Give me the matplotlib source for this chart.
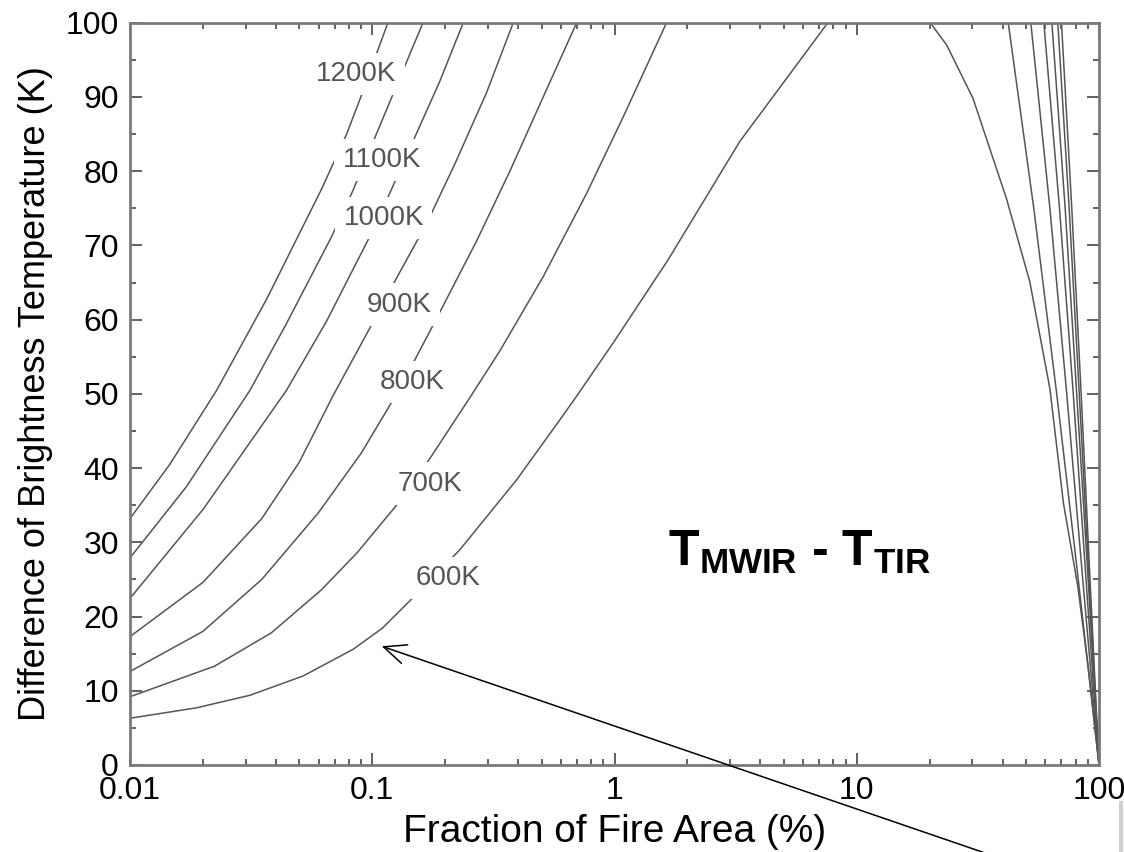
import numpy as np
import matplotlib.pyplot as plt
from matplotlib.ticker import FixedLocator, FixedFormatter, NullFormatter, MultipleLocator
from matplotlib.lines import Line2D

plt.rcParams['font.family'] = ['Liberation Sans', 'DejaVu Sans']
plt.rcParams['mathtext.fontset'] = 'custom'
plt.rcParams['mathtext.rm'] = 'Liberation Sans'
plt.rcParams['mathtext.bf'] = 'Liberation Sans:bold'

# fire area fraction (%) vs T_MWIR - T_TIR (K)
p_600 = [0.01, 0.0188, 0.0313, 0.0519, 0.0835, 0.1098, 0.149, 0.230, 0.394, 0.595, 0.698, 0.994, 1.66, 3.29, 7.6,
         20.1, 23.5, 30.2, 41.5, 51.8, 62.7, 71.3, 81.8, 90.6, 100]
dt_600 = [6.3, 7.7, 9.4, 12.0, 15.6, 18.4, 22.7, 29.0, 38.4, 46.5, 49.7, 57.0, 68.0, 84.0, 100,
          100, 97.0, 89.8, 76.3, 65.1, 50.7, 35.3, 24.0, 12.8, 0]

p_700 = [0.01, 0.0223, 0.0383, 0.0617, 0.0866, 0.126, 0.173, 0.253, 0.3365, 0.508, 0.767, 1.086, 1.64,
         42.2, 53.8, 66.9, 82.1, 100]
dt_700 = [9.2, 13.3, 17.8, 23.6, 28.6, 35.0, 41.3, 49.5, 55.8, 65.8, 77.0, 87.3, 100,
          100, 75, 50, 25, 0]

p_800 = [0.01, 0.02, 0.035, 0.06, 0.09, 0.1184, 0.150, 0.1786, 0.2697, 0.370, 0.492, 0.698,
         52.3, 62.7, 73.6, 85.7, 100]
dt_800 = [12.6, 18.0, 25.0, 34.0, 42.0, 48.5, 54.6, 59.3, 70.6, 80.0, 89.0, 100,
          100, 75, 50, 25, 0]

p_900 = [0.01, 0.02, 0.035, 0.05, 0.069, 0.0994, 0.126, 0.168, 0.2195, 0.2966, 0.382,
         59.2, 68.7, 78.3, 88.4, 100]
dt_900 = [17.3, 24.6, 33.2, 40.8, 49.8, 59.3, 65.6, 73.0, 81.0, 90.6, 100,
          100, 75, 50, 25, 0]

p_1000 = [0.01, 0.0201, 0.0443, 0.0648, 0.0963, 0.118, 0.150, 0.190, 0.2375,
          63.9, 72.5, 80.9, 90.2, 100]
dt_1000 = [22.45, 34.5, 50.5, 59.8, 70.8, 77.0, 84.6, 92.1, 100,
           100, 75, 50, 25, 0]

p_1100 = [0.01, 0.0171, 0.0313, 0.0443, 0.068, 0.0835, 0.104, 0.126, 0.162,
          67.6, 75.3, 82.9, 91.0, 100]
dt_1100 = [27.9, 37.5, 50.5, 59.5, 71.2, 77.5, 85.0, 91.5, 100,
           100, 75, 50, 25, 0]

p_1200 = [0.01, 0.0146, 0.0228, 0.0367, 0.0618, 0.0784, 0.089, 0.116,
          70.0, 77.2, 84.4, 91.8, 100]
dt_1200 = [33.2, 40.5, 50.5, 62.8, 77.6, 85.0, 89.7, 100,
           100, 75, 50, 25, 0]

temps = [600, 700, 800, 900, 1000, 1100, 1200]
curves = [(p_600, dt_600), (p_700, dt_700), (p_800, dt_800), (p_900, dt_900),
          (p_1000, dt_1000), (p_1100, dt_1100), (p_1200, dt_1200)]

# where the inline temperature labels sit
lab_p = [0.2054, 0.173, 0.1458, 0.1289, 0.1117, 0.1096, 0.0857]
lab_dt = [25.2, 37.9, 51.6, 62.0, 73.7, 81.5, 93.1]

fig = plt.figure(figsize=(11.24, 8.52), dpi=100)
ax = fig.add_axes([130/1124, 87/852, 969/1124, 742.3/852])

for (px, dy) in curves:
    ax.plot(px, dy, color='#555555', lw=1.1, zorder=2)

for t, lx, ly in zip(temps, lab_p, lab_dt):
    ax.text(lx, ly, str(t)+'K', fontsize=20, color='#555555', ha='center', va='center',
            bbox=dict(boxstyle='square,pad=0.3', fc='white', ec='none'), zorder=3)

ax.text(5.77, 28.7, r'$\mathbf{T_{MWIR}}$ - $\mathbf{T_{TIR}}$', fontsize=36, fontweight='bold',
        ha='center', va='center', zorder=4)

ax.annotate('', xy=(0.1094, 16.0), xycoords='data', xytext=(988, -2), textcoords='figure pixels',
            arrowprops=dict(arrowstyle='->,head_length=0.8,head_width=0.35', mutation_scale=20,
                            lw=1.1, color='black', shrinkA=0, shrinkB=0),
            annotation_clip=False, zorder=5)

ax.set_xscale('log')
ax.set_xlim(0.01, 100)
ax.set_ylim(0, 100)
ax.xaxis.set_major_locator(FixedLocator([0.01, 0.1, 1, 10, 100]))
ax.xaxis.set_major_formatter(FixedFormatter(['0.01', '0.1', '1', '10', '100']))
ax.xaxis.set_minor_locator(FixedLocator([k*10.0**e for e in range(-2, 2) for k in range(2, 10)]))
ax.xaxis.set_minor_formatter(NullFormatter())
ax.yaxis.set_major_locator(MultipleLocator(10))
ax.yaxis.set_minor_locator(MultipleLocator(5))

ax.tick_params(which='both', direction='in', top=True, right=True, color='#555555', width=1.3)
ax.tick_params(which='major', length=8.5, labelsize=23, pad=8)
ax.tick_params(which='minor', length=4)
for s in ax.spines.values():
    s.set_color('#7a7a7a')
    s.set_linewidth(2.0)

ax.set_xlabel('Fraction of Fire Area (%)', fontsize=28, labelpad=6)
ax.set_ylabel('Difference of Brightness Temperature (K)', fontsize=26, labelpad=9)

# light grey edge left over at the bottom right of the original image
fig.add_artist(Line2D([1121/1124, 1121/1124], [0, 49/852], transform=fig.transFigure,
                      color='#d0d0d0', lw=3))

fig.savefig('out.png', dpi=100)
